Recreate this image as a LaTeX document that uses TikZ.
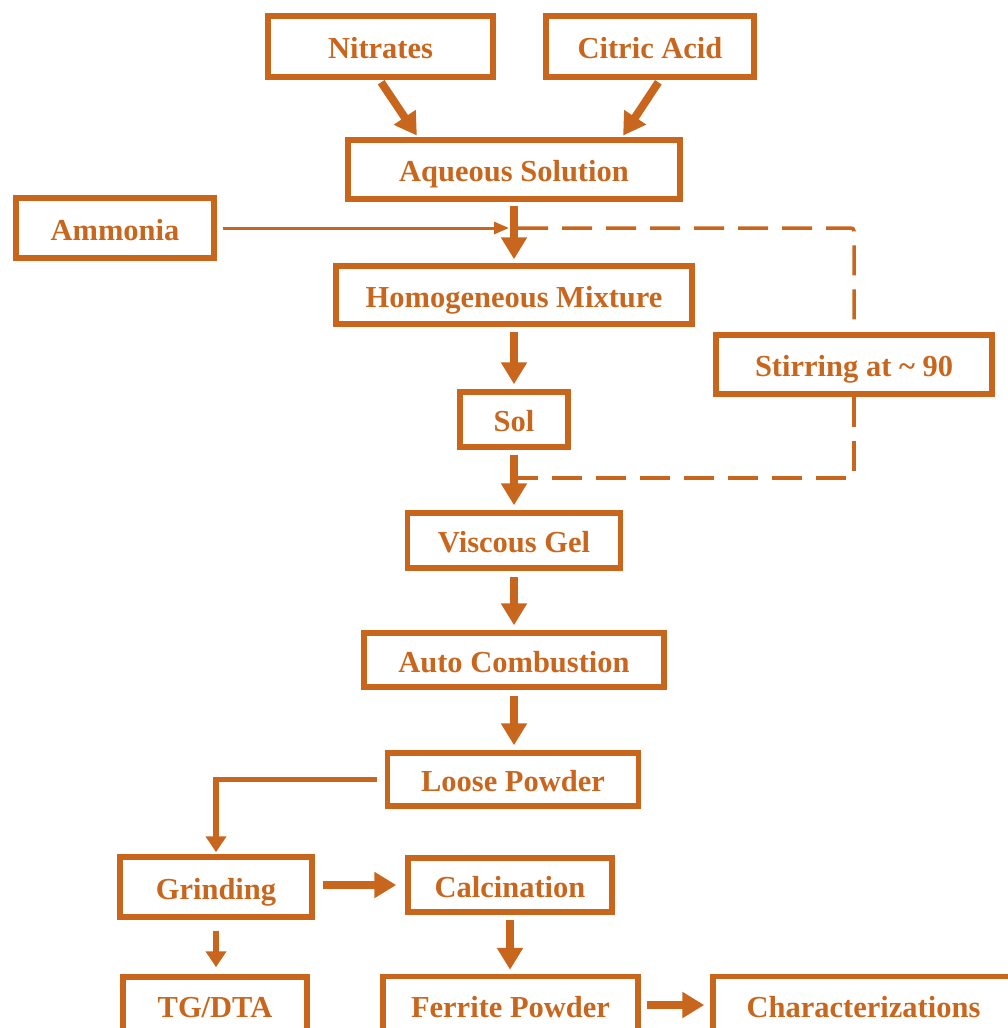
\documentclass[tikz,border=0pt]{standalone}
\usepackage{fontspec}
\setmainfont{Liberation Serif}
\usetikzlibrary{arrows.meta}
\definecolor{ochre}{RGB}{200,102,30}
\tikzset{
  box/.style={draw=ochre, line width=5.5pt, text=ochre, rectangle, inner sep=0pt,
    text height=30pt, text depth=6pt,
    font=\fontsize{30.5}{36}\selectfont\bfseries},
  bigarrow/.style={draw=ochre, line width=8pt, -{Triangle[width=25pt,length=22pt]}},
  midarrow/.style={draw=ochre, line width=5.5pt, -{Triangle[width=20pt,length=16pt]}},
  thinarrow/.style={draw=ochre, line width=3pt, -{Triangle[width=12pt,length=15pt]}},
  dashline/.style={draw=ochre, line width=3.5pt, dash pattern=on 30pt off 14pt, rounded corners=3pt}
}
\begin{document}
\begin{tikzpicture}[x=1pt,y=-1pt]
\useasboundingbox (0,0) rectangle (1008,1028);
\clip (0,0) rectangle (1008,1028);
\node[box, minimum width=225pt, minimum height=61pt] (nit) at (380.5,46.5) {Nitrates};
\node[box, minimum width=208pt, minimum height=61pt] (cit) at (650,46.5) {Citric Acid};
\node[box, minimum width=332pt, minimum height=59pt] (aq) at (514,169.5) {Aqueous Solution};
\node[box, minimum width=198pt, minimum height=60pt] (amm) at (115,228) {Ammonia};
\node[box, minimum width=356pt, minimum height=58pt] (hom) at (514,295) {Homogeneous Mixture};
\node[box, minimum width=276pt, minimum height=59pt] (stir) at (854,364.5) {Stirring at \textasciitilde\ 90};
\node[box, minimum width=108pt, minimum height=55pt] (sol) at (514,419.5) {Sol};
\node[box, minimum width=213pt, minimum height=55pt] (visc) at (514,540.5) {Viscous Gel};
\node[box, minimum width=300pt, minimum height=54pt] (auto) at (514,660) {Auto Combustion};
\node[box, minimum width=251pt, minimum height=53pt] (loose) at (513,779.5) {Loose Powder};
\node[box, minimum width=192pt, minimum height=60pt] (grind) at (216,887) {Grinding};
\node[box, minimum width=204pt, minimum height=54pt] (calc) at (510,885) {Calcination};
\node[box, minimum width=184pt, minimum height=56pt] (tga) at (215,1005) {TG/DTA};
\node[box, minimum width=255pt, minimum height=57pt] (fer) at (510.5,1005) {Ferrite Powder};
\node[box, minimum width=301pt, minimum height=57pt] (char) at (863.5,1005) {Characterizations};

\coordinate (j1) at (aq.south |- amm.east);
\coordinate (j2) at (514,478);

\draw[bigarrow, shorten <=3pt, shorten >=2pt] ([xshift=-1pt]nit.south) -- ([xshift=-96pt]aq.north);
\draw[bigarrow, shorten <=3pt, shorten >=2pt] ([xshift=10pt]cit.south) -- ([xshift=108pt]aq.north);
\draw[bigarrow, shorten <=4pt, shorten >=4pt] (aq.south) -- (hom.north);
\draw[bigarrow, shorten <=5pt, shorten >=5pt] (hom.south) -- (sol.north);
\draw[bigarrow, shorten <=5pt, shorten >=5pt] (sol.south) -- (visc.north);
\draw[bigarrow, shorten <=6pt, shorten >=5pt] (visc.south) -- (auto.north);
\draw[bigarrow, shorten <=6pt, shorten >=5pt] (auto.south) -- (auto.south |- loose.north);
\draw[thinarrow, shorten <=6pt] (amm.east) -- ([xshift=-5pt]j1);
\draw[dashline] ([xshift=4pt]j1) -- (stir.north |- j1) -- (stir.north);
\draw[dashline] (stir.south) -- (stir.south |- j2) -- ([xshift=4pt]j2);
\draw[midarrow, shorten <=8pt, shorten >=2pt] (loose.west) -| (grind.north);
\draw[midarrow, shorten <=11pt, shorten >=7pt] (grind.south) -- (grind.south |- tga.north);
\draw[bigarrow, shorten <=8pt, shorten >=9pt] (grind.east |- calc.west) -- (calc.west);
\draw[bigarrow, shorten <=5pt, shorten >=4pt] (calc.south) -- (calc.south |- fer.north);
\draw[bigarrow, shorten <=6pt, shorten >=6pt] (fer.east) -- (char.west);
\end{tikzpicture}
\end{document}
